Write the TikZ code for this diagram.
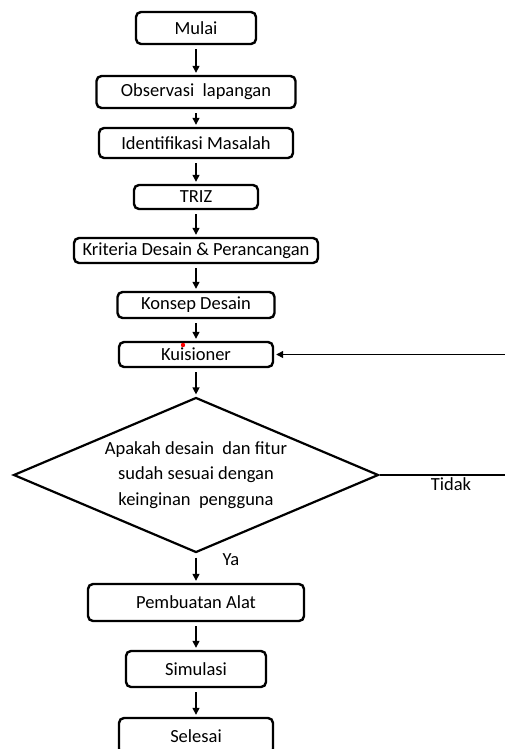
\documentclass[tikz,border=0pt]{standalone}
\usepackage{fontspec}
\setmainfont{Carlito}
\usetikzlibrary{shapes.geometric, arrows.meta}
\def\f{\fontsize{18.5}{25.5}\selectfont}

\tikzset{
  box/.style={draw, line width=2.4pt, rounded corners=5pt, inner sep=0pt, font=\f},
  arr/.style={-{Triangle[length=7pt,width=7pt]}, line width=1.3pt, shorten <=4pt, shorten >=2pt}
}

\begin{document}
\begin{tikzpicture}[x=1pt,y=-1pt]
\useasboundingbox (0,0) rectangle (505,749);
\node[box, minimum width=120, minimum height=32] (mulai) at (196,28) {Mulai};
\node[box, minimum width=199, minimum height=32] (obs) at (196,92) {Observasi~~lapangan};
\node[box, minimum width=194, minimum height=30] (ident) at (196,143) {Identifikasi Masalah};
\node[box, minimum width=124, minimum height=24] (triz) at (196,197) {TRIZ};
\node[box, minimum width=244, minimum height=25] (krit) at (196,250.5) {Kriteria Desain \& Perancangan};
\node[box, minimum width=157, minimum height=26] (konsep) at (196,305) {Konsep Desain};
\node[box, minimum width=154, minimum height=25] (kuis) at (196,354.5) {Kuisioner};
\node[draw, diamond, aspect=2.35, line width=2.2pt, inner sep=0pt, minimum width=365, minimum height=155, align=center, font=\f] (dec) at (196,475)
  {Apakah desain~~dan fitur\\ sudah sesuai dengan\\ keinginan~~pengguna};
\node[box, minimum width=216, minimum height=37] (buat) at (196,602.5) {Pembuatan Alat};
\node[box, minimum width=140, minimum height=36] (sim) at (196,669) {Simulasi};
\node[box, minimum width=154, minimum height=36] (sel) at (196,736) {Selesai};
\node[font=\f] (tidak) at (451,484) {Tidak};
\node[font=\f] (ya) at (231,560) {Ya};

\foreach \a/\b in {mulai/obs, obs/ident, ident/triz, triz/krit, krit/konsep, konsep/kuis, kuis/dec, dec/buat, buat/sim, sim/sel}{
	\draw[arr] (\a) -- (\b);
}
\draw[arr, shorten <=0pt] (dec.east) -- ++(150,0) |- (kuis.east);
\fill[red] (183,345) circle (2.2);
\end{tikzpicture}
\end{document}
